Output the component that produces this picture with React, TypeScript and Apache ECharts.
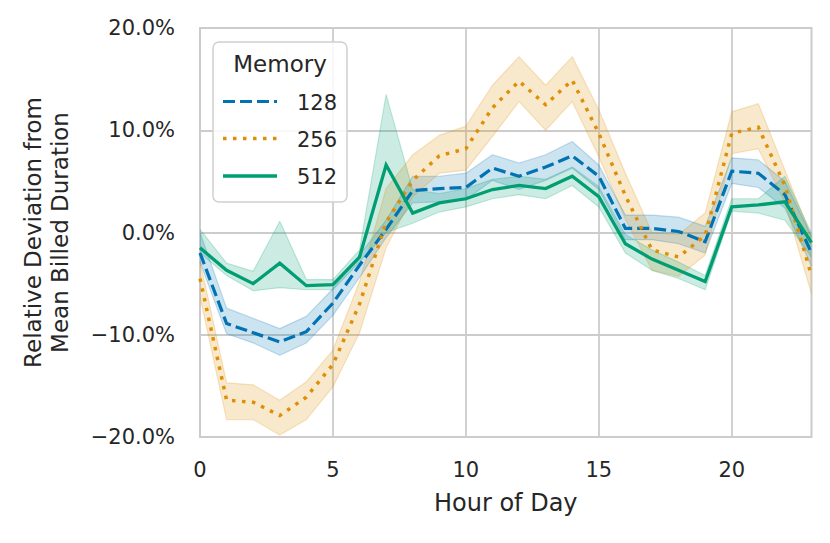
import React, { useEffect, useRef } from "react";
import * as echarts from "echarts";

// ---- data (percent deviation from mean billed duration) ----
const HOURS = [0, 1, 2, 3, 4, 5, 6, 7, 8, 9, 10, 11, 12, 13, 14, 15, 16, 17, 18, 19, 20, 21, 22, 23];
const MEMORY_SIZES = ["128", "256", "512"];

const MEAN_128 = [-2.0, -8.9, -9.8, -10.7, -9.7, -6.9, -3.2, 0.3, 4.1, 4.3, 4.4, 6.3, 5.5, 6.4, 7.5, 5.5, 0.4, 0.4, 0.1, -0.9, 6.0, 5.8, 3.7, -2.0];
const LOW_128 = [-2.9, -9.9, -10.8, -12.0, -10.8, -8.1, -4.4, -0.5, 2.9, 3.0, 3.2, 5.1, 4.2, 5.1, 6.3, 4.2, -0.7, -0.7, -1.1, -2.0, 4.8, 4.4, 2.4, -3.3];
const HIGH_128 = [0.0, -7.4, -8.4, -9.4, -8.2, -5.5, -2.2, 1.2, 5.5, 5.5, 5.8, 7.6, 6.8, 7.6, 8.9, 6.6, 1.7, 1.7, 1.5, 0.6, 7.3, 7.1, 5.0, -0.4];

const MEAN_256 = [-4.5, -16.4, -16.6, -17.9, -16.1, -12.9, -7.0, 1.0, 5.1, 7.5, 8.2, 12.2, 14.8, 12.5, 14.9, 9.7, 3.6, -1.7, -2.4, -0.3, 9.7, 10.3, 4.6, -4.2];
const LOW_256 = [-6.3, -18.3, -18.3, -19.8, -18.3, -15.1, -9.8, -1.5, 3.5, 5.8, 6.1, 9.4, 12.8, 10.0, 12.8, 7.4, 1.3, -3.7, -4.3, -2.2, 7.7, 8.2, 2.9, -6.0];
const HIGH_256 = [-2.8, -14.7, -14.9, -16.4, -14.6, -11.5, -4.8, 4.3, 7.6, 9.5, 10.4, 14.4, 17.2, 14.4, 17.2, 12.0, 5.8, 0.0, -0.2, 1.9, 11.8, 12.6, 6.1, -0.4];

const MEAN_512 = [-1.5, -3.7, -5.0, -3.0, -5.2, -5.1, -2.4, 6.6, 1.9, 2.9, 3.3, 4.2, 4.6, 4.3, 5.5, 3.5, -1.1, -2.6, -3.7, -4.8, 2.5, 2.7, 3.0, -1.0];
const LOW_512 = [-2.0, -4.2, -5.7, -5.4, -5.6, -5.6, -2.9, 0.0, 0.9, 2.0, 2.5, 3.3, 3.7, 3.3, 4.6, 2.5, -2.0, -3.7, -4.5, -5.6, 2.1, 1.9, 1.2, -2.4];
const HIGH_512 = [0.3, -3.0, -3.8, 1.1, -4.6, -4.6, -1.7, 13.5, 4.2, 3.8, 4.3, 5.2, 5.5, 5.2, 6.4, 4.5, -0.2, -1.7, -2.9, -4.2, 3.3, 3.3, 5.5, -0.1];

const X_LABEL_EVERY = 5;
const Y_MIN = -20;
const Y_MAX = 20;
const Y_INTERVAL = 10;

// ---- styles ----
const FONT = "DejaVu Sans";
const TEXT_COLOR = "#262626";
const GRID_COLOR = "#cccccc";

const GROUPS = [
  { name: MEMORY_SIZES[0], mean: MEAN_128, low: LOW_128, high: HIGH_128, color: "#0173b2", band: "rgba(1,115,178,0.2)", edge: "rgba(1,115,178,0.22)", dash: [12, 5] as number[] | "solid", width: 3.2 },
  { name: MEMORY_SIZES[1], mean: MEAN_256, low: LOW_256, high: HIGH_256, color: "#de8f05", band: "rgba(222,143,5,0.2)", edge: "rgba(222,143,5,0.22)", dash: [3.5, 6.5] as number[] | "solid", width: 3.5 },
  { name: MEMORY_SIZES[2], mean: MEAN_512, low: LOW_512, high: HIGH_512, color: "#029e73", band: "rgba(2,158,115,0.2)", edge: "rgba(2,158,115,0.22)", dash: "solid" as number[] | "solid", width: 3.3 },
];

const fmtPct = (v: number) => (v < 0 ? "\u2212" : "") + Math.abs(v).toFixed(1) + "%";

export default function App() {
  const ref = useRef<HTMLDivElement>(null);

  useEffect(() => {
    if (!ref.current) return;
    const chart = echarts.init(ref.current, null, { renderer: "svg" });

    const series: any[] = [];
    GROUPS.forEach((g) => {
      series.push({
        name: g.name + "-low",
        type: "line",
        data: g.low.slice(),
        stack: "band-" + g.name,
        stackStrategy: "all",
        symbol: "none",
        silent: true,
        lineStyle: { color: g.edge, width: 1.2 },
        z: 1,
      });
      series.push({
        name: g.name + "-band",
        type: "line",
        data: g.high.map((v, i) => v - g.low[i]),
        stack: "band-" + g.name,
        stackStrategy: "all",
        symbol: "none",
        silent: true,
        lineStyle: { color: g.edge, width: 1.2 },
        areaStyle: { color: g.band, opacity: 1 },
        z: 1,
      });
    });
    GROUPS.forEach((g) => {
      series.push({
        name: g.name,
        type: "line",
        data: g.mean.slice(),
        symbol: "none",
        lineStyle: { color: g.color, width: g.width, type: g.dash, cap: "butt", join: "miter" },
        itemStyle: { color: g.color },
        z: 3,
      });
    });

    const rowY = [101.5, 138.5, 176];
    const graphic: any[] = [
      {
        type: "rect",
        z: 100,
        shape: { x: 213, y: 42, width: 134, height: 160, r: 6 },
        style: { fill: "rgba(255,255,255,0.85)", stroke: "#d0d0d0", lineWidth: 1.5 },
      },
      {
        type: "text",
        z: 101,
        x: 280,
        y: 64,
        style: { text: "Memory", fontFamily: FONT, fontSize: 23, fill: TEXT_COLOR, align: "center", verticalAlign: "middle" },
      },
    ];
    GROUPS.forEach((g, i) => {
      graphic.push({
        type: "line",
        z: 101,
        shape: { x1: 223, y1: rowY[i], x2: 277, y2: rowY[i] },
        style: { stroke: g.color, lineWidth: g.width, lineDash: g.dash === "solid" ? null : g.dash, lineCap: "butt" },
      });
      graphic.push({
        type: "text",
        z: 101,
        x: 297,
        y: rowY[i] + 1,
        style: { text: g.name, fontFamily: FONT, fontSize: 21, fill: TEXT_COLOR, align: "left", verticalAlign: "middle" },
      });
    });

    chart.setOption({
      animation: false,
      backgroundColor: "#ffffff",
      textStyle: { fontFamily: FONT, color: TEXT_COLOR },
      grid: {
        left: 200,
        right: 18.5,
        top: 28,
        bottom: 106,
        show: true,
        borderColor: GRID_COLOR,
        borderWidth: 2,
        backgroundColor: "transparent",
        containLabel: false,
        outerBoundsMode: "none",
      },
      xAxis: {
        type: "category",
        data: HOURS.map(String),
        boundaryGap: false,
        name: "Hour of Day",
        nameLocation: "middle",
        nameGap: 54,
        nameTextStyle: { fontSize: 24, color: TEXT_COLOR, fontFamily: FONT },
        axisLine: { show: false },
        axisTick: { show: false },
        axisLabel: { fontSize: 21, color: TEXT_COLOR, margin: 22, interval: X_LABEL_EVERY - 1, fontFamily: FONT },
        splitLine: { show: true, interval: X_LABEL_EVERY - 1, lineStyle: { color: GRID_COLOR, width: 1.8 } },
      },
      yAxis: {
        type: "value",
        min: Y_MIN,
        max: Y_MAX,
        interval: Y_INTERVAL,
        name: "Relative Deviation from\nMean Billed Duration",
        nameLocation: "middle",
        nameRotate: 90,
        nameGap: 127,
        nameTextStyle: { fontSize: 23, lineHeight: 27, color: TEXT_COLOR, fontFamily: FONT, align: "center" },
        axisLine: { show: false },
        axisTick: { show: false },
        axisLabel: { fontSize: 21, color: TEXT_COLOR, margin: 25, formatter: fmtPct, fontFamily: FONT },
        splitLine: { show: true, lineStyle: { color: GRID_COLOR, width: 1.8 } },
      },
      series,
      graphic,
    });

    return () => {
      chart.dispose();
    };
  }, []);

  return (
    <div
      ref={ref}
      style={{ position: "fixed", left: 0, top: 0, width: 830, height: 543, background: "#fff" }}
    />
  );
}
